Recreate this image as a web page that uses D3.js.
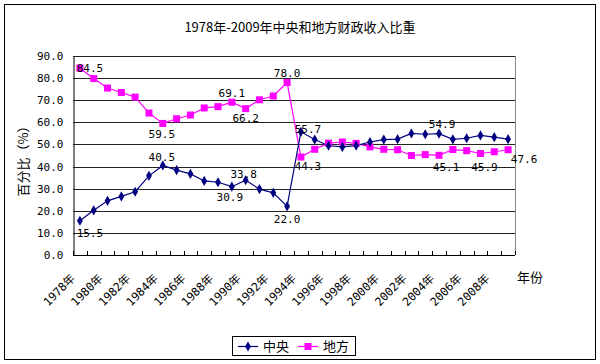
<!DOCTYPE html>
<html><head><meta charset="utf-8">
<script src="https://cdn.jsdelivr.net/npm/d3@7"></script>
<style>
body{margin:0;background:#fff;}
svg{display:block;}
</style></head>
<body><svg id="c" width="600" height="364"></svg>
<script>
const years = [1978,1979,1980,1981,1982,1983,1984,1985,1986,1987,1988,1989,1990,1991,1992,1993,1994,1995,1996,1997,1998,1999,2000,2001,2002,2003,2004,2005,2006,2007,2008,2009];
const central = [15.5,20.2,24.5,26.5,28.6,35.8,40.5,38.4,36.7,33.5,32.9,30.9,33.8,29.8,28.1,22.0,55.7,52.2,49.4,48.9,49.5,51.1,52.2,52.4,55.0,54.6,54.9,52.3,52.8,54.1,53.3,52.4];
const local = [84.5,79.8,75.5,73.5,71.4,64.2,59.5,61.6,63.3,66.5,67.1,69.1,66.2,70.2,71.9,78.0,44.3,47.8,50.6,51.1,50.5,48.9,47.8,47.6,45.0,45.4,45.1,47.7,47.2,45.9,46.7,47.6];
const yTicks = [0,10,20,30,40,50,60,70,80,90];
const xTickLabelYears = [1978,1980,1982,1984,1986,1988,1990,1992,1994,1996,1998,2000,2002,2004,2006,2008];
const seriesNames = ["中央","地方"];
const titleText = "1978年-2009年中央和地方财政收入比重";
const yTitle = "百分比（%）";
const xTitle = "年份";
const labelledCentral = [1978,1984,1989,1990,1993,1994,2004];
const labelledLocal = [1978,1984,1989,1990,1993,1994,2004,2007,2009];

// label placement offsets (style, not data)
const placeC = {1978:[10,12],1984:[-1,-8],1989:[-2,10],1990:[-2,-6],1993:[0,13],1994:[7,-3],2004:[3,-10]};
const placeL = {1978:[10,0],1984:[-1,11],1989:[0,-9],1990:[0,9],1993:[0,-10],1994:[7,9],2004:[7,12],2007:[4,13],2009:[16,9]};

const numFont = "'DejaVu Sans Mono','Noto Sans CJK SC',monospace";
const cjkFont = "'Noto Sans CJK SC','DejaVu Sans',sans-serif";
const svg = d3.select("#c");
const L=73,R=515,T=56,B=255;

svg.append("rect").attr("x",4.5).attr("y",4.5).attr("width",591).attr("height",355)
  .attr("fill","#fff").attr("stroke","#000").attr("stroke-width",1);

svg.append("text").attr("x",300).attr("y",32).attr("text-anchor","middle")
  .attr("font-family",cjkFont).attr("font-size",13).attr("fill","#000").text(titleText);

const x = d3.scaleBand().domain(years).range([L,R]);
const cx = d => x(d)+x.bandwidth()/2;
const y = d3.scaleLinear().domain([0,90]).range([B,T]);

svg.append("g").selectAll("line").data(yTicks.filter(d=>d>0)).join("line")
  .attr("x1",L).attr("x2",R).attr("y1",d=>Math.round(y(d))+0.5).attr("y2",d=>Math.round(y(d))+0.5)
  .attr("stroke","#222").attr("stroke-width",1);
svg.append("line").attr("x1",R+0.5).attr("x2",R+0.5).attr("y1",T).attr("y2",B).attr("stroke","#888");

const yAxis = svg.append("g").attr("transform",`translate(${L+0.5},0)`)
  .call(d3.axisLeft(y).tickValues(yTicks).tickSize(0).tickPadding(10).tickFormat(d3.format(".1f")));
yAxis.select(".domain").attr("stroke","#000");
yAxis.selectAll("text").attr("font-family",numFont).attr("font-size",11).attr("fill","#000");

svg.append("line").attr("x1",L).attr("x2",R).attr("y1",Math.round(B)+0.5).attr("y2",Math.round(B)+0.5).attr("stroke","#000");
const tickPos = years.map(d=>x(d)).concat([x(years[years.length-1])+x.bandwidth()]);
svg.append("g").selectAll("line").data(tickPos).join("line")
  .attr("x1",d=>Math.round(d)+0.5).attr("x2",d=>Math.round(d)+0.5)
  .attr("y1",Math.round(B)).attr("y2",Math.round(B)-4).attr("stroke","#000");
svg.append("g").selectAll("text").data(xTickLabelYears).join("text")
  .attr("transform",d=>`translate(${cx(d)-4},${B+24}) rotate(-45)`)
  .attr("text-anchor","end").attr("font-family",numFont).attr("font-size",11.5).attr("fill","#000")
  .text(d=>d+"年");

svg.append("text").attr("x",517).attr("y",282).attr("font-family",cjkFont).attr("font-size",13).text(xTitle);
svg.append("text").attr("transform","translate(28,158) rotate(-90)").attr("text-anchor","middle")
  .attr("font-family",cjkFont).attr("font-size",13).text(yTitle);

const cColor="#000080", lColor="#FF00FF";
const line = d3.line().x((d,i)=>cx(years[i])).y(d=>y(d));
svg.append("path").datum(local).attr("d",line).attr("fill","none").attr("stroke",lColor).attr("stroke-width",1.2);
svg.append("path").datum(central).attr("d",line).attr("fill","none").attr("stroke",cColor).attr("stroke-width",1.2);

const diamond = d3.symbol().type(d3.symbolDiamond).size(30);
svg.append("g").selectAll("rect").data(local).join("rect")
  .attr("x",(d,i)=>cx(years[i])-3.5).attr("y",d=>y(d)-3.5).attr("width",7).attr("height",7).attr("fill",lColor);
svg.append("g").selectAll("path").data(central).join("path")
  .attr("transform",(d,i)=>`translate(${cx(years[i])},${y(d)})`).attr("d",diamond).attr("fill",cColor);

function addLabels(yrs, vals, place){
  svg.append("g").selectAll("text").data(yrs).join("text")
    .attr("x",d=>cx(d)+place[d][0]).attr("y",d=>y(vals[years.indexOf(d)])+place[d][1]+4)
    .attr("text-anchor","middle").attr("font-family",numFont).attr("font-size",11).attr("fill","#000")
    .text(d=>vals[years.indexOf(d)].toFixed(1));
}
addLabels(labelledLocal, local, placeL);
addLabels(labelledCentral, central, placeC);

const lg = svg.append("g");
lg.append("rect").attr("x",232.5).attr("y",336.5).attr("width",123).attr("height",19).attr("fill","#fff").attr("stroke","#000");
const items=[{n:seriesNames[0],c:cColor,s:"d",x:238},{n:seriesNames[1],c:lColor,s:"s",x:298}];
items.forEach(it=>{
  lg.append("line").attr("x1",it.x).attr("x2",it.x+20).attr("y1",346.5).attr("y2",346.5).attr("stroke",it.c).attr("stroke-width",1.2);
  if(it.s==="d") lg.append("path").attr("transform",`translate(${it.x+10},346.5)`).attr("d",diamond).attr("fill",it.c);
  else lg.append("rect").attr("x",it.x+6.5).attr("y",343).attr("width",7).attr("height",7).attr("fill",it.c);
  lg.append("text").attr("x",it.x+25).attr("y",351).attr("font-family",cjkFont).attr("font-size",13).text(it.n);
});
</script></body></html>
